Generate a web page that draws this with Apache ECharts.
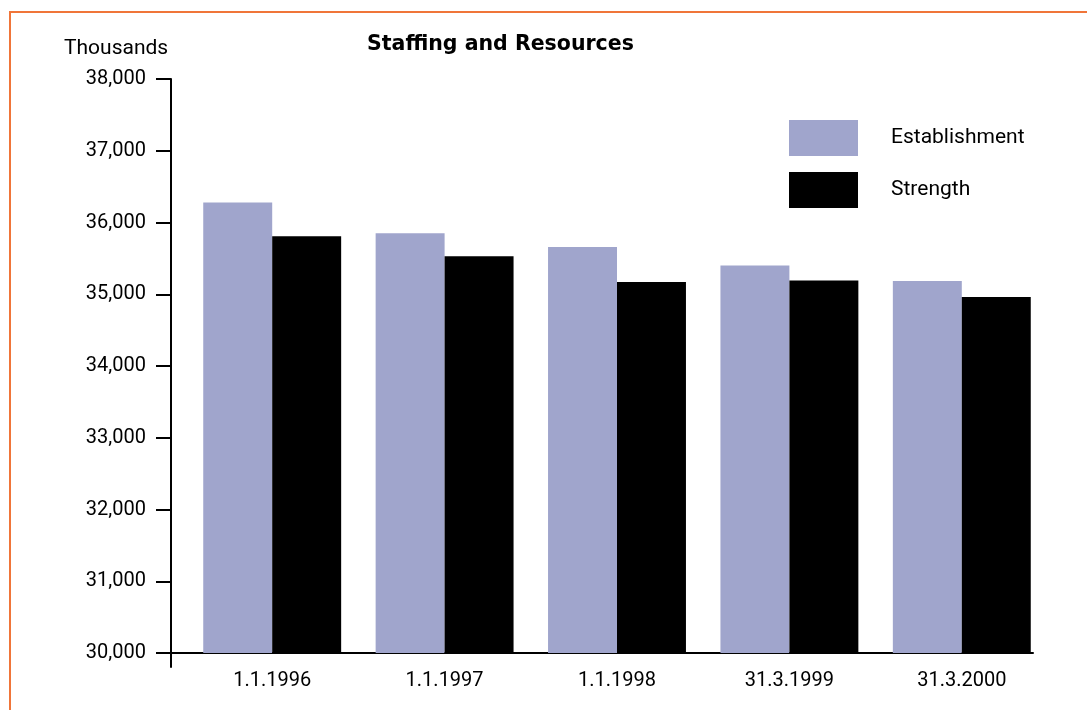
<!DOCTYPE html>
<html>
<head>
<meta charset="utf-8">
<script src="https://cdn.jsdelivr.net/npm/echarts@6/dist/echarts.min.js"></script>
<style>
  html, body { margin: 0; padding: 0; background: #fff; }
  #frame { position: absolute; left: 9px; top: 11px; width: 1078px; height: 699px;
           border-top: 2px solid #F07539; border-left: 2px solid #F07539; box-sizing: border-box; }
  #chart { position: absolute; left: 0; top: 0; width: 1087px; height: 710px; }
</style>
</head>
<body>
<div id="frame"></div>
<div id="chart"></div>
<script>
const categories = ['1.1.1996', '1.1.1997', '1.1.1998', '31.3.1999', '31.3.2000'];
const establishment = [36280, 35850, 35660, 35400, 35185];
const strength = [35810, 35530, 35170, 35190, 34960];
const yMin = 30000, yMax = 38000, yStep = 1000;

const FONT = 'Roboto, "Liberation Sans", sans-serif';
const chart = echarts.init(document.getElementById('chart'), null, { renderer: 'canvas' });

chart.setOption({
  animation: false,
  backgroundColor: 'transparent',
  textStyle: { fontFamily: FONT },
  title: [
    { text: 'Staffing and Resources', left: 367, top: 34, padding: 0,
      textStyle: { fontFamily: '"DejaVu Sans", sans-serif', fontSize: 20.5, fontWeight: 'bold', color: '#000' } },
    { text: 'Thousands', left: 64, top: 38, padding: 0,
      textStyle: { fontFamily: FONT, fontSize: 21, fontWeight: 'normal', color: '#000' } }
  ],
  legend: {
    orient: 'vertical', left: 789, top: 120, padding: 0,
    itemWidth: 69, itemHeight: 36, itemGap: 16,
    icon: 'rect',
    data: ['Establishment', 'Strength'],
    textStyle: { fontFamily: FONT, fontSize: 21, color: '#000', padding: [3, 0, 0, 28] }
  },
  grid: [
    { left: 171, top: 79, width: 862, height: 574 },
    { left: 186, top: 79, width: 862, height: 574 },
    { left: 171, top: 653, width: 10, height: 14 }
  ],
  xAxis: [
    { gridIndex: 0, type: 'value', min: 0, max: 1,
      axisLine: { show: true, lineStyle: { color: '#000', width: 2 } },
      axisTick: { show: false }, axisLabel: { show: false }, splitLine: { show: false } },
    { gridIndex: 1, type: 'category', data: categories,
      axisLine: { show: false }, axisTick: { show: false },
      axisLabel: { margin: 18, fontFamily: FONT, fontSize: 20, color: '#000' } },
    { gridIndex: 2, type: 'value', show: false }
  ],
  yAxis: [
    { gridIndex: 0, type: 'value', min: yMin, max: yMax, interval: yStep,
      axisLine: { show: true, lineStyle: { color: '#000', width: 2 } },
      axisTick: { show: true, length: 15, lineStyle: { color: '#000', width: 2 } },
      axisLabel: { margin: 25, fontFamily: FONT, fontSize: 20, color: '#000',
        formatter: v => v.toLocaleString('en-US') },
      splitLine: { show: false } },
    { gridIndex: 1, type: 'value', min: yMin, max: yMax, interval: yStep, show: false },
    { gridIndex: 2, type: 'value', min: 0, max: 1,
      axisLine: { show: true, lineStyle: { color: '#000', width: 2 } },
      axisTick: { show: false }, axisLabel: { show: false }, splitLine: { show: false } }
  ],
  series: [
    { name: 'Establishment', type: 'bar', xAxisIndex: 1, yAxisIndex: 1,
      data: establishment, barGap: '0%', barCategoryGap: '20%',
      itemStyle: { color: '#A0A5CC' } },
    { name: 'Strength', type: 'bar', xAxisIndex: 1, yAxisIndex: 1,
      data: strength, barGap: '0%', barCategoryGap: '20%',
      itemStyle: { color: '#000000' } }
  ]
});
</script>
</body>
</html>
